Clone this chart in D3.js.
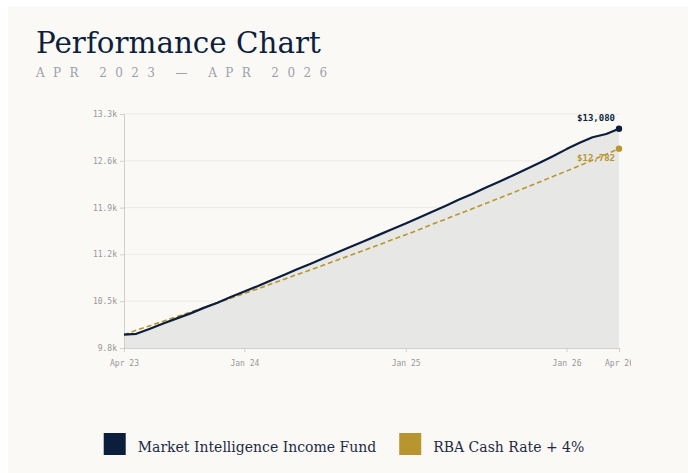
<!DOCTYPE html>
<html>
<head>
<meta charset="utf-8">
<script src="https://cdn.jsdelivr.net/npm/d3@7"></script>
<style>
  body { margin: 0; background: #fff; }
  #panel { position: absolute; left: 8px; top: 7px; width: 680px; height: 466px; background: #faf9f6; }
  .title { font-family: "DejaVu Serif", serif; font-size: 29.4px; fill: #0e1f3c; }
  .subtitle { font-family: "DejaVu Serif", serif; font-size: 12px; fill: #9ba1ab; letter-spacing: 8.4px; }
  .tick text { font-family: "DejaVu Sans Mono", monospace; font-size: 8px; fill: #979797; }
  .legend text { font-family: "DejaVu Serif", serif; font-size: 14px; fill: #1e2a44; }
  .endLabel { font-family: "DejaVu Sans Mono", monospace; font-size: 9px; font-weight: bold; }
</style>
</head>
<body>
<div id="panel"></div>
<script>
// monthly values, Apr 2023 - Apr 2026
var dates = ["2023-04-03","2023-05-01","2023-06-01","2023-07-01","2023-08-01","2023-09-01","2023-10-01","2023-11-01","2023-12-01",
  "2024-01-01","2024-02-01","2024-03-01","2024-04-01","2024-05-01","2024-06-01","2024-07-01","2024-08-01","2024-09-01","2024-10-01","2024-11-01","2024-12-01",
  "2025-01-01","2025-02-01","2025-03-01","2025-04-01","2025-05-01","2025-06-01","2025-07-01","2025-08-01","2025-09-01","2025-10-01","2025-11-01","2025-12-01",
  "2026-01-01","2026-02-01","2026-03-01","2026-04-01","2026-04-30"];

var fund = [10000,10012,10088,10165,10243,10318,10400,10478,10562,
  10646,10728,10810,10896,10980,11064,11150,11235,11322,11405,11492,11576,
  11663,11752,11836,11925,12016,12104,12196,12288,12380,12472,12570,12668,
  12775,12872,12953,13001,13080];

var bench = [10000,10067,10134,10201,10269,10337,10406,10475,10545,
  10615,10686,10757,10829,10901,10973,11046,11120,11194,11268,11343,11419,
  11495,11571,11648,11726,11804,11882,11961,12041,12121,12202,12283,12365,
  12447,12530,12613,12697,12782];

var yTicks = [9800, 10500, 11200, 11900, 12600, 13300];
var xTickDates = ["2023-04-03","2024-01-01","2025-01-01","2026-01-01","2026-04-30"];
var xTickLabels = ["Apr 23","Jan 24","Jan 25","Jan 26","Apr 26"];

var seriesNames = ["Market Intelligence Income Fund", "RBA Cash Rate + 4%"];
var colors = ["#0b1f3d", "#b8952e"];

var parse = d3.timeParse("%Y-%m-%d");
var data = dates.map(function(d, i) {
  return {date: parse(d), fund: fund[i], bench: bench[i]};
});

var svg = d3.select("#panel").append("svg")
  .attr("width", 680)
  .attr("height", 466);

// title + subtitle
svg.append("text").attr("class", "title")
  .attr("x", 28).attr("y", 46)
  .text("Performance Chart");
svg.append("text").attr("class", "subtitle")
  .attr("x", 28).attr("y", 70)
  .text("APR 2023 — APR 2026");

// chart area (nested svg clips the last tick label like the original)
var margin = {top: 12, right: 12, bottom: 44, left: 88},
    width = 595 - margin.left - margin.right,
    height = 290 - margin.top - margin.bottom;

var chart = svg.append("svg")
  .attr("x", 28).attr("y", 95)
  .attr("width", 595).attr("height", 290)
  .append("g")
  .attr("transform", "translate(" + margin.left + "," + margin.top + ")");

var x = d3.scaleTime()
  .domain(d3.extent(data, function(d) { return d.date; }))
  .range([0, width]);

var y = d3.scaleLinear()
  .domain([9800, 13300])
  .range([height, 0]);

// grid
chart.append("g")
  .selectAll("line")
  .data(yTicks)
  .enter().append("line")
  .attr("x1", 0).attr("x2", width)
  .attr("y1", function(d) { return y(d); })
  .attr("y2", function(d) { return y(d); })
  .attr("stroke", "#ecebe8")
  .attr("stroke-width", 1);

// area under fund
chart.append("path")
  .datum(data)
  .attr("fill", "#e7e7e5")
  .attr("d", d3.area()
    .x(function(d) { return x(d.date); })
    .y0(height)
    .y1(function(d) { return y(d.fund); }));

// axes
var xAxis = chart.append("g")
  .attr("transform", "translate(0," + height + ")")
  .call(d3.axisBottom(x)
    .tickValues(xTickDates.map(parse))
    .tickFormat(function(d, i) { return xTickLabels[i]; })
    .tickSize(4)
    .tickPadding(8));

var yAxis = chart.append("g")
  .call(d3.axisLeft(y)
    .tickValues(yTicks)
    .tickFormat(function(d) { return (d / 1000).toFixed(1) + "k"; })
    .tickSize(4)
    .tickPadding(3));

[xAxis, yAxis].forEach(function(a) {
  a.select(".domain").attr("stroke", "#cfcfcf");
  a.selectAll(".tick line").attr("stroke", "#cfcfcf");
});

// benchmark line (dashed)
chart.append("path")
  .datum(data)
  .attr("fill", "none")
  .attr("stroke", colors[1])
  .attr("stroke-width", 1.6)
  .attr("stroke-dasharray", "5,3")
  .attr("d", d3.line()
    .x(function(d) { return x(d.date); })
    .y(function(d) { return y(d.bench); }));

// fund line
chart.append("path")
  .datum(data)
  .attr("fill", "none")
  .attr("stroke", colors[0])
  .attr("stroke-width", 2.2)
  .attr("stroke-linejoin", "round")
  .attr("d", d3.line()
    .x(function(d) { return x(d.date); })
    .y(function(d) { return y(d.fund); }));

// end dots + labels
var last = data[data.length - 1];
var fmt = d3.format("$,");

chart.append("circle")
  .attr("cx", x(last.date)).attr("cy", y(last.fund))
  .attr("r", 3.2).attr("fill", colors[0]);
chart.append("circle")
  .attr("cx", x(last.date)).attr("cy", y(last.bench))
  .attr("r", 3.2).attr("fill", colors[1]);

chart.append("text").attr("class", "endLabel")
  .attr("x", x(last.date) - 4).attr("y", y(last.fund) - 8)
  .attr("text-anchor", "end")
  .attr("fill", colors[0])
  .text(fmt(last.fund));
chart.append("text").attr("class", "endLabel")
  .attr("x", x(last.date) - 4).attr("y", y(last.bench) + 12)
  .attr("text-anchor", "end")
  .attr("fill", colors[1])
  .text(fmt(last.bench));

// legend, centred
var legend = svg.append("g").attr("class", "legend");
var cursor = 0;
seriesNames.forEach(function(name, i) {
  var item = legend.append("g").attr("transform", "translate(" + cursor + ",0)");
  item.append("rect")
    .attr("x", 0).attr("y", 426)
    .attr("width", 22).attr("height", 22)
    .attr("fill", colors[i]);
  var t = item.append("text")
    .attr("x", 34).attr("y", 445)
    .text(name);
  cursor += 34 + t.node().getComputedTextLength() + 23;
});
var legendWidth = cursor - 23;
legend.attr("transform", "translate(" + (336 - legendWidth / 2) + ",0)");
</script>
</body>
</html>
